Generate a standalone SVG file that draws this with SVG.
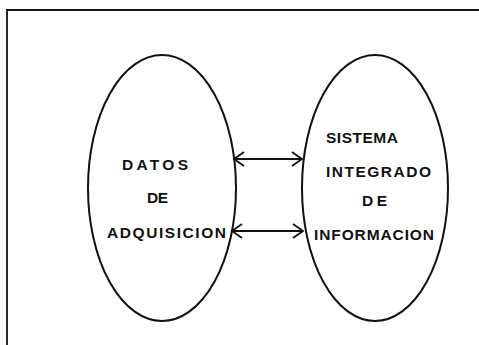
<svg xmlns="http://www.w3.org/2000/svg" width="479" height="345" viewBox="0 0 479 345">
<style>
.node{fill:none;stroke:#111;stroke-width:2}
.lbl{font-family:"Liberation Sans",Arial,sans-serif;font-size:15.5px;font-weight:bold;fill:#111}
.frame{fill:none;stroke:#111;stroke-width:1.8}
.conn line{stroke:#111;stroke-width:1.8}
.conn path{fill:none;stroke:#111;stroke-width:1.8}
</style>
<rect width="479" height="345" fill="#fff"/>
<path class="frame" d="M479,10 L7,10 L7,345"/>
<g id="datos">
<ellipse class="node" cx="162" cy="188" rx="74" ry="133"/>
<text class="lbl" x="122" y="170" textLength="66" lengthAdjust="spacing">DATOS</text>
<text class="lbl" x="147" y="203" textLength="21" lengthAdjust="spacing">DE</text>
<text class="lbl" x="107" y="238" textLength="119" lengthAdjust="spacing">ADQUISICION</text>
</g>
<g id="sistema">
<ellipse class="node" cx="375" cy="188" rx="73" ry="133"/>
<text class="lbl" x="326" y="143" textLength="72" lengthAdjust="spacing">SISTEMA</text>
<text class="lbl" x="326" y="177" textLength="105" lengthAdjust="spacing">INTEGRADO</text>
<text class="lbl" x="362" y="206" textLength="25" lengthAdjust="spacing">DE</text>
<text class="lbl" x="314" y="240" textLength="120" lengthAdjust="spacing">INFORMACION</text>
</g>
<g id="connectors" class="conn">
<line x1="234" y1="159" x2="302" y2="159"/>
<path d="M244,152 L234,159 L244,166"/>
<path d="M292,152 L302,159 L292,166"/>
<line x1="232" y1="231" x2="303" y2="231"/>
<path d="M242,224 L232,231 L242,238"/>
<path d="M293,224 L303,231 L293,238"/>
</g>
</svg>
